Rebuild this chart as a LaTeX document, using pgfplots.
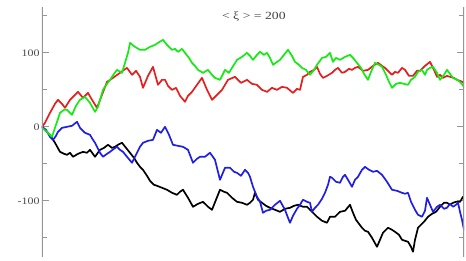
\documentclass[border=0pt]{standalone}
\usepackage{fontspec}
\setmainfont{Liberation Serif}
\usepackage{graphicx}
\usepackage{pgfplots}
\pgfplotsset{compat=1.18}
\usepackage{pgfplotstable}

\pgfplotstableread{
x y
0 0
3 5.4
8 18.9
13 31.1
16 36.5
20 31.1
23 25.7
28 36.5
32 41.9
36 47.3
41 39.2
46 45.9
50 36.5
55 25.7
60 43.2
65 60.8
71 66.2
78 73.0
82 77.0
85 79.7
90 70.3
94 75.7
98 67.6
101 52.7
106 68.9
111 81.1
116 56.8
120 63.5
123 63.5
126 55.4
130 50.0
134 52.7
138 41.9
143 33.8
146 41.9
150 47.3
155 56.8
160 66.2
165 50.0
170 36.5
175 43.2
180 50.0
186 63.5
193 67.6
199 59.5
205 63.5
210 58.1
215 56.8
220 50.0
225 47.3
230 52.7
235 50.0
240 54.1
245 52.7
251 45.9
255 51.4
258 50.0
261 67.6
265 70.3
268 74.3
272 77.0
275 81.1
278 71.6
281 66.2
285 68.9
290 73.0
293 77.0
296 79.7
300 73.0
303 74.3
307 78.4
310 77.0
313 79.7
316 81.1
321 75.7
326 77.0
331 82.4
336 86.5
340 82.4
343 79.7
347 74.3
350 70.3
353 74.3
356 73.0
360 79.7
363 77.0
367 68.9
371 68.9
375 75.7
378 75.7
383 82.4
388 87.8
392 77.0
395 67.6
398 70.3
401 66.2
405 68.9
408 67.6
412 66.2
415 63.5
418 62.2
422 59.5
}\redtab

\pgfplotstableread{
x y
0 -1.4
5 -6.8
10 -13.5
14 2.7
18 18.9
22 23.0
25 23.0
30 16.2
34 28.4
38 36.5
43 40.5
48 32.4
53 20.3
56 27.0
61 50.0
65 58.1
68 63.5
72 71.6
75 77.0
80 73.0
83 86.5
86 100.0
88 113.5
93 108.1
98 104.1
103 104.1
108 108.1
113 110.8
116 113.5
121 117.6
125 110.8
130 104.1
133 105.4
136 101.4
140 105.4
143 100.0
147 93.2
150 86.5
153 82.4
156 77.0
161 73.0
166 77.0
170 70.3
173 66.2
178 63.5
183 77.0
187 73.0
190 79.7
195 90.5
200 94.6
205 100.0
208 95.9
211 90.5
215 97.3
218 101.4
222 97.3
225 100.0
228 93.2
231 83.8
235 87.8
238 90.5
242 97.3
246 104.1
250 95.9
253 87.8
257 83.8
260 79.7
264 77.0
268 70.3
272 77.0
275 83.8
280 93.2
284 94.6
288 100.0
291 87.8
294 93.2
298 90.5
303 94.6
308 97.3
311 93.2
315 86.5
319 79.7
322 71.6
326 63.5
329 74.3
333 86.5
337 83.8
340 81.1
344 70.3
347 60.8
350 52.7
354 58.1
358 59.5
362 58.1
366 56.8
369 63.5
373 67.6
376 74.3
380 77.0
383 70.3
385 77.0
388 79.7
391 81.1
395 73.0
398 63.5
402 70.3
405 77.0
408 71.6
411 66.2
415 63.5
418 60.8
422 54.1
}\greentab

\pgfplotstableread{
x y
0 0
4 -4.1
8 -13.5
11 -17.6
14 -12.2
16 -6.8
20 -1.4
25 0
30 1.4
35 6.8
38 -1.4
41 -5.4
43 -8.1
48 -10.8
51 -17.6
53 -21.6
58 -35.1
61 -40.5
65 -36.5
68 -33.8
72 -29.7
75 -27.0
78 -31.1
81 -33.8
85 -40.5
90 -48.6
93 -40.5
95 -35.1
98 -27.0
101 -21.6
106 -18.9
111 -17.6
115 -4.1
119 -8.1
123 0
127 -10.8
131 -24.3
136 -25.7
141 -27.0
146 -31.1
151 -48.6
155 -43.2
158 -40.5
163 -40.5
168 -35.1
173 -44.6
178 -71.6
183 -55.4
188 -55.4
192 -60.8
195 -62.2
199 -66.2
203 -58.1
206 -62.2
208 -67.6
211 -81.1
215 -94.6
218 -101.4
221 -116.2
224 -113.5
228 -112.2
233 -105.4
238 -100.0
243 -112.2
246 -123.0
248 -129.7
251 -120.3
255 -110.8
258 -105.4
261 -98.6
265 -101.4
268 -102.7
270 -114.9
273 -109.5
276 -105.4
280 -97.3
283 -89.2
286 -78.4
288 -67.6
290 -68.9
294 -74.3
298 -75.7
301 -67.6
303 -64.9
306 -71.6
310 -81.1
313 -71.6
316 -67.6
320 -58.1
323 -54.1
327 -58.1
331 -60.8
335 -59.5
340 -64.9
345 -74.3
350 -85.1
355 -86.5
360 -89.2
363 -90.5
366 -89.2
369 -101.4
373 -112.2
376 -118.9
380 -121.6
383 -113.5
385 -95.9
388 -105.4
391 -114.9
395 -108.1
398 -105.4
402 -110.8
405 -109.5
408 -104.1
411 -108.1
414 -105.4
416 -102.7
418 -114.9
420 -125.7
422 -139.2
}\bluetab

\pgfplotstableread{
x y
0 0
4 -5.4
8 -10.8
13 -21.6
18 -33.8
22 -36.5
25 -37.8
28 -35.1
31 -40.5
36 -36.5
41 -33.8
45 -35.1
48 -31.1
53 -40.5
58 -31.1
62 -28.4
66 -24.3
70 -28.4
73 -27.0
76 -24.3
80 -21.6
84 -28.4
88 -35.1
92 -41.9
95 -48.6
98 -54.1
101 -58.1
105 -66.2
108 -73.0
112 -78.4
115 -79.7
120 -82.4
125 -85.1
130 -89.2
135 -91.9
138 -87.8
141 -85.1
146 -95.9
151 -108.1
156 -104.1
161 -101.4
166 -108.1
170 -112.2
174 -98.6
178 -85.1
182 -87.8
185 -89.2
190 -95.9
195 -101.4
200 -102.7
205 -105.4
208 -102.7
211 -98.6
213 -89.2
216 -98.6
220 -102.7
224 -106.8
228 -109.5
233 -112.2
238 -114.9
243 -110.8
248 -109.5
252 -106.8
256 -105.4
261 -108.1
265 -108.1
268 -112.2
271 -116.2
275 -121.6
280 -127.0
285 -129.7
288 -121.6
293 -121.6
298 -114.9
303 -113.5
308 -105.4
311 -116.2
314 -125.7
317 -131.1
320 -136.5
323 -140.5
326 -141.9
330 -150.0
335 -162.2
338 -152.7
341 -143.2
344 -139.2
346 -136.5
350 -139.2
353 -141.9
357 -146.0
360 -152.7
363 -154.1
366 -155.4
369 -162.2
371 -168.9
373 -152.7
376 -136.5
379 -132.4
382 -128.4
386 -121.6
390 -117.6
394 -114.9
398 -108.1
402 -102.7
405 -102.7
408 -105.4
411 -102.7
414 -101.4
418 -101.4
421 -94.6
}\blacktab

\definecolor{wred}{RGB}{230,30,30}
\definecolor{wgreen}{RGB}{20,235,20}
\definecolor{wblue}{RGB}{30,30,230}
\definecolor{axgray}{RGB}{150,150,150}

\begin{document}
\begin{tikzpicture}
\begin{axis}[
  scale only axis,
  width=422bp, height=250bp,
  xmin=0, xmax=422, ymin=-176, ymax=162,
  axis line style={draw=none},
  xtick=\empty,
  ytick={-100,0,100},
  minor ytick={-150,-50,50,150},
  ytick pos=both,
  yticklabel pos=left,
  tick align=inside,
  major tick length=7bp,
  minor tick length=5bp,
  every tick/.style={axgray, line width=0.8pt},
  /pgf/number format/assume math mode=true,
  yticklabel={\scalebox{1.2}[1]{\pgfmathprintnumber{\tick}}},
  yticklabel style={font=\fontsize{10}{12}\selectfont, color=black!70, xshift=1bp},
  clip=true,
  every axis plot/.append style={line width=1.7pt, line join=round, line cap=round},
]
\addplot[black] table[x=x,y=y] {\blacktab};
\addplot[wblue] table[x=x,y=y] {\bluetab};
\addplot[wred] table[x=x,y=y] {\redtab};
\addplot[wgreen] table[x=x,y=y] {\greentab};
\draw[axgray, line width=1.2pt] (rel axis cs:0,0) -- (rel axis cs:0,1);
\draw[axgray, line width=1.2pt] (rel axis cs:1,0) -- (rel axis cs:1,1);
\node[font=\fontsize{11}{13}\selectfont, text=black!75] at (rel axis cs:0.502,0.96) {\scalebox{1.25}[1]{< ξ > = 200}};
\coordinate (SW) at (rel axis cs:0,0);
\coordinate (NE) at (rel axis cs:1,1);
\end{axis}
\pgfresetboundingbox
\path ([xshift=-42bp,yshift=-4bp]SW) rectangle ([xshift=2bp,yshift=7bp]NE);
\end{tikzpicture}
\end{document}
